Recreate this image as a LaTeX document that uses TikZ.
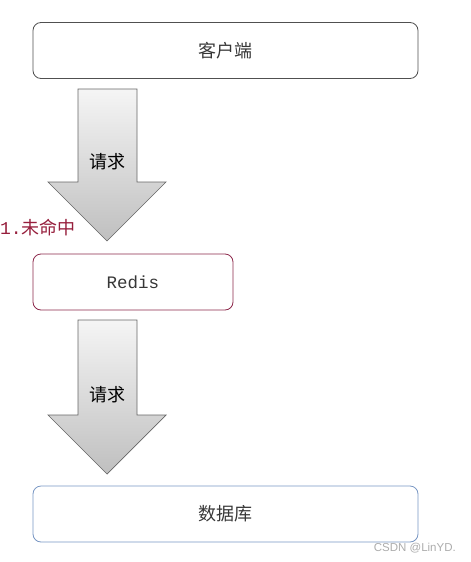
\documentclass[tikz,border=0pt]{standalone}
\usepackage{fontspec}
\setmainfont{Noto Sans CJK SC}
\newfontfamily\monofont{Liberation Mono}
\newfontfamily\markfont{Liberation Sans}
\usetikzlibrary{positioning}
\definecolor{boxgrey}{RGB}{80,80,80}
\definecolor{redisred}{RGB}{140,40,75}
\definecolor{missred}{RGB}{150,30,60}
\definecolor{dbblue}{RGB}{120,150,195}
\definecolor{textgrey}{RGB}{55,55,55}

\begin{document}
\begin{tikzpicture}[x=1pt, y=-1pt]
\tikzstyle{layerbox}=[rectangle, rounded corners=8pt, line width=0.8pt, minimum height=56pt, inner sep=0pt, font=\fontsize{18}{20}\selectfont, text=textgrey]
\tikzstyle{blockarrow}=[draw=gray!80!black, line width=0.7pt, top color=gray!8, bottom color=gray!50]
\tikzstyle{arrowtext}=[font=\fontsize{18}{20}\selectfont, text=black]

\useasboundingbox (0,0) rectangle (471,562);

\node[layerbox, draw=boxgrey, minimum width=385pt] (Client) at (225.5,50.5) {客户端};
\node[layerbox, draw=redisred, minimum width=200pt, font=\monofont\fontsize{17.5}{20}\selectfont] (Redis) at (133,282) {Redis};
\node[layerbox, draw=dbblue, minimum width=385pt] (DB) at (225.5,514) {数据库};

% request arrow client -> redis
\draw[blockarrow] (78,89) -- (137,89) -- (137,182) -- (166,182) -- (107,241) -- (48,182) -- (78,182) -- cycle;
\node[arrowtext] (Req1) at (107.5,162) {请求};
\node[text=missred, anchor=west, inner sep=0pt, font=\fontsize{18}{20}\selectfont] (Miss) at (0,228) {{\monofont 1.}未命中};

% request arrow redis -> db
\draw[blockarrow] (78,320) -- (137,320) -- (137,415) -- (166,415) -- (107,474) -- (48,415) -- (78,415) -- cycle;
\node[arrowtext] (Req2) at (107.5,395) {请求};

\node[text=gray!65, anchor=east, inner sep=0pt, font=\markfont\fontsize{11.5}{13}\selectfont] (Mark) at (456,548) {CSDN @LinYD.};
\end{tikzpicture}
\end{document}
